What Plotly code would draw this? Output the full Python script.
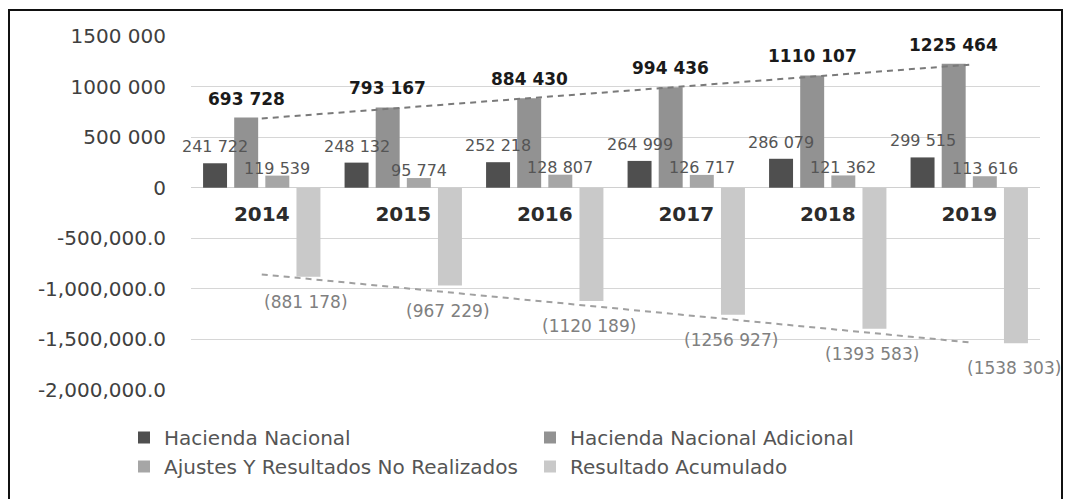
import numpy as np
import plotly.graph_objects as go

# ---- data ----
years = ["2014", "2015", "2016", "2017", "2018", "2019"]
hacienda_nacional = [241722, 248132, 252218, 264999, 286079, 299515]
hacienda_adicional = [693728, 793167, 884430, 994436, 1110107, 1225464]
ajustes = [119539, 95774, 128807, 126717, 121362, 113616]
resultado_acumulado = [-881178, -967229, -1120189, -1256927, -1393583, -1538303]

series_names = ["Hacienda Nacional", "Hacienda Nacional Adicional",
                "Ajustes Y Resultados No Realizados", "Resultado Acumulado"]

y_tickvals = [-2000000, -1500000, -1000000, -500000, 0, 500000, 1000000, 1500000]
y_ticktext = ["-2,000,000.0", "-1,500,000.0", "-1,000,000.0", "-500,000.0",
              "0", "500 000", "1000 000", "1500 000"]

# ---- styling ----
colors = ["#4f4f4f", "#929292", "#a6a6a6", "#c9c9c9"]
FONT = "DejaVu Sans"
W, H = 1068, 499
L, R, T, B = 191, 28, 36, 109
PW, PH = W - L - R, H - T - B


def fmt(v):
    s = str(abs(int(v)))
    if len(s) > 3:
        s = s[:-3] + " " + s[-3:]
    return f"({s})" if v < 0 else s


fig = go.Figure()
all_series = [hacienda_nacional, hacienda_adicional, ajustes, resultado_acumulado]
for name, vals, col in zip(series_names, all_series, colors):
    fig.add_trace(go.Bar(x=years, y=vals, name=name, marker=dict(color=col, line=dict(width=0))))

# linear trendlines (as in the original spreadsheet chart)
idx = np.arange(len(years))
for vals, col in [(hacienda_adicional, "#7a7a7a"), (resultado_acumulado, "#a0a0a0")]:
    k, b = np.polyfit(idx, np.array(vals, dtype=float), 1)
    fig.add_trace(go.Scatter(x=years, y=k * idx + b, mode="lines", showlegend=False,
                             hoverinfo="skip",
                             line=dict(color=col, width=2, dash="6px,5px")))

# data labels
bargap, groupgap = 0.12, 0.23
cat_w = PW / len(years)
slot = cat_w * (1 - bargap) / 4
label_style = [
    dict(size=16, color="#555555", weight="normal", yshift=5, xadj=0),
    dict(size=17, color="#1a1a1a", weight="bold", yshift=7, xadj=0),
    dict(size=16, color="#555555", weight="normal", yshift=-4, xadj=0),
    dict(size=17, color="#808080", weight="normal", yshift=-13, xadj=-2),
]
annotations = []
for i, (vals, st) in enumerate(zip(all_series, label_style)):
    xs = (i - 1.5) * slot + st["xadj"]
    for j, v in enumerate(vals):
        annotations.append(dict(
            x=j, y=v, xref="x", yref="y", text=fmt(v), showarrow=False,
            xshift=xs, yshift=st["yshift"],
            yanchor="bottom" if v >= 0 else "top",
            font=dict(family=FONT, size=st["size"], color=st["color"], weight=st["weight"]),
        ))

ymin, ymax = -2000000, 1500000
zero_pos = (0 - ymin) / (ymax - ymin)

fig.update_layout(
    width=W, height=H,
    margin=dict(l=L, r=R, t=T, b=B, pad=0, autoexpand=False),
    paper_bgcolor="white", plot_bgcolor="white",
    barmode="group", bargap=bargap, bargroupgap=groupgap,
    font=dict(family=FONT, color="#404040"),
    annotations=annotations,
    showlegend=True,
    legend=dict(
        orientation="h", x=(124 - L) / PW, xanchor="left", y=(H - 418 - B) / PH, yanchor="top",
        entrywidth=361, entrywidthmode="pixels",
        font=dict(family=FONT, size=20, color="#555555"),
        bgcolor="rgba(0,0,0,0)", itemclick=False,
    ),
    xaxis=dict(
        type="category", anchor="free", position=zero_pos, range=[-0.5, len(years) - 0.5],
        showgrid=False, showline=False, zeroline=False,
        ticks="", ticklabelstandoff=12,
        tickfont=dict(family=FONT, size=20, color="#2b2b2b", weight="bold"),
    ),
    yaxis=dict(
        range=[ymin, ymax], tickvals=y_tickvals, ticktext=y_ticktext,
        showgrid=True, gridcolor="#d6d6d6", gridwidth=1,
        zeroline=True, zerolinecolor="#d0d0d0", zerolinewidth=1,
        showline=False, ticks="", ticklabelstandoff=24,
        tickfont=dict(family=FONT, size=20, color="#404040"),
    ),
    shapes=[dict(
        type="rect", xref="paper", yref="paper",
        x0=(9 - L) / PW, x1=(1062 - L) / PW,
        y0=(H - B - 505) / PH, y1=(H - B - 10) / PH,
        line=dict(color="#111111", width=2), fillcolor="rgba(0,0,0,0)", layer="below",
    )],
)

fig.write_html("out.html", config={"displayModeBar": False},
               post_script="document.body.style.margin='0';")
